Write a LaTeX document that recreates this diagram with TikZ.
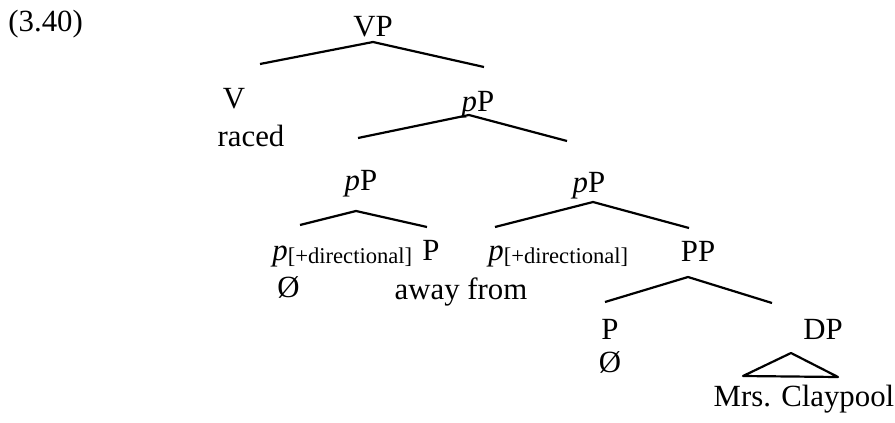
\documentclass[tikz,border=0pt]{standalone}
\usepackage{fontspec}
\setmainfont{Liberation Serif}
\usepackage{tikz}

\newcommand{\pdir}{\textit{p}\raisebox{-1.5pt}{\fontsize{11.3}{12}\selectfont[+directional]}}

\begin{document}
\begin{tikzpicture}[x=0.5pt, y=-0.5pt, font=\fontsize{15.4}{18}\selectfont,
    lbl/.style={anchor=base, inner sep=0pt},
    branch/.style={line width=1.1pt, line join=round}]
    \useasboundingbox (0,0) rectangle (895,423);

    \node (num) [lbl, anchor=base west] at (8,32) {(3.40)};
    \node (vp) [lbl] at (373,36) {VP};
    \node (v) [lbl] at (234,108) {V};
    \node (raced) [lbl] at (251,146) {raced};
    \node (pp1) [lbl] at (478,111) {\textit{p}P};
    \node (pp2) [lbl] at (361,190) {\textit{p}P};
    \node (pp3) [lbl] at (589,192) {\textit{p}P};
    \node (pdirA) [lbl, anchor=base west] at (272,260) {\pdir};
    \node (pA) [lbl] at (431,260) {P};
    \node (nullA) [lbl, anchor=base west] at (277,297) {Ø};
    \node (away) [lbl] at (461,299) {away from};
    \node (pdirB) [lbl, anchor=base west] at (488,260) {\pdir};
    \node (PP) [lbl] at (698,261) {PP};
    \node (pB) [lbl] at (610,339) {P};
    \node (nullB) [lbl] at (610,372) {Ø};
    \node (dp) [lbl] at (823,339) {DP};
    \node (mrs) [lbl] at (804,406) {Mrs. Claypool};

    \coordinate (vp-t) at (373,42);  \coordinate (vp-l) at (260,64);  \coordinate (vp-r) at (484,67);
    \coordinate (pp1-t) at (469,115); \coordinate (pp1-l) at (358,138); \coordinate (pp1-r) at (567,141);
    \coordinate (pp2-t) at (356,211); \coordinate (pp2-l) at (300,225); \coordinate (pp2-r) at (427,227);
    \coordinate (pp3-t) at (593,202); \coordinate (pp3-l) at (495,227); \coordinate (pp3-r) at (689,228);
    \coordinate (PP-t) at (688,277);  \coordinate (PP-l) at (605,302);  \coordinate (PP-r) at (772,303);
    \coordinate (dp-t) at (791,353);  \coordinate (dp-l) at (743,376);  \coordinate (dp-r) at (838,377);

    \draw [branch] (vp-l) -- (vp-t) -- (vp-r);
    \draw [branch] (pp1-l) -- (pp1-t) -- (pp1-r);
    \draw [branch] (pp2-l) -- (pp2-t) -- (pp2-r);
    \draw [branch] (pp3-l) -- (pp3-t) -- (pp3-r);
    \draw [branch] (PP-l) -- (PP-t) -- (PP-r);
    \draw [branch] (dp-t) -- (dp-l) -- (dp-r) -- cycle;
\end{tikzpicture}
\end{document}
